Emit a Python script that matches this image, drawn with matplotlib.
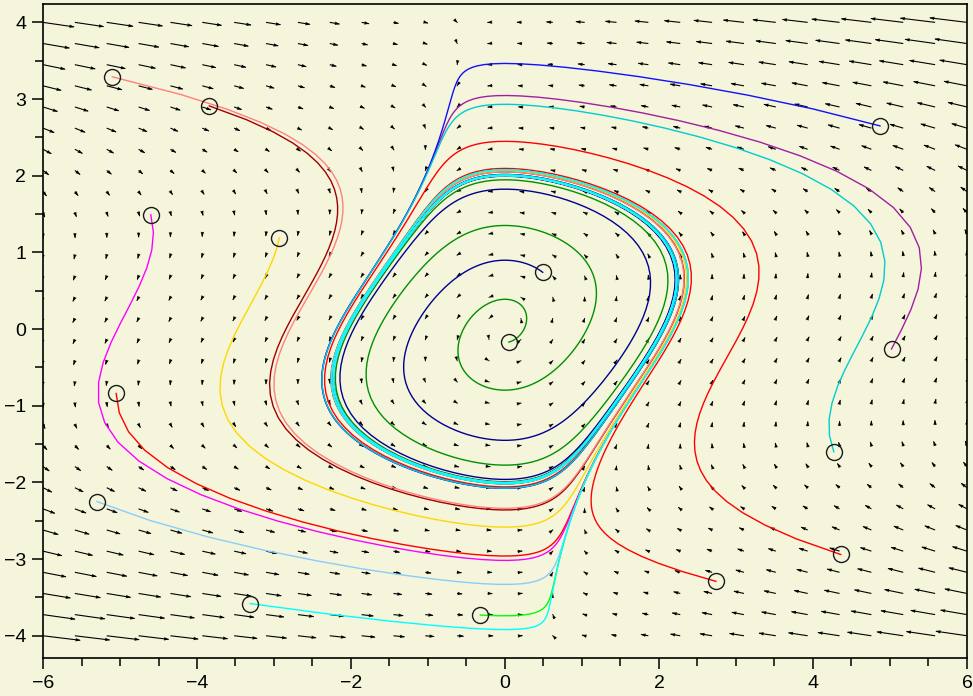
import numpy as np
import matplotlib.pyplot as plt
from matplotlib.ticker import MultipleLocator

# Van der Pol oscillator: x is the velocity (horizontal), y the position (vertical)
mu = 0.5

# direction field grid
grid_x = np.linspace(-6, 6, 30)
grid_y = np.linspace(-4, 4, 30)

# initial conditions of the trajectories (listed in drawing order)
start_x = [0.49, 0.05, 2.74, 4.36, -5.05, -3.84, -5.10, -4.60, -2.93,
           -0.32, 5.02, 4.87, 4.27, -5.30, -3.31]
start_y = [0.74, -0.17, -3.29, -2.94, -0.84, 2.91, 3.29, 1.49, 1.19,
           -3.73, -0.26, 2.65, -1.60, -2.25, -3.58]
colors = ['#000090', '#009000', '#ff0000', '#ff0000', '#ff0000',
          '#a00000', '#ff8080', '#ff00ff', '#ffd700', '#00ff00',
          '#a020a0', '#1010ff', '#00cdcd', '#87cefa', '#00ffff']

t_end = 20.0
dt = 0.01
bg = '#f5f5dc'


def field(x, y):
    dx = mu * (1 - y**2) * x - y
    dy = x
    return dx, dy


def integrate(x0, y0):
    x = np.array(x0, float)
    y = np.array(y0, float)
    xs, ys = [x.copy()], [y.copy()]
    n = int(round(t_end / dt))
    for i in range(n):
        k1 = field(x, y)
        k2 = field(x + dt / 2 * k1[0], y + dt / 2 * k1[1])
        k3 = field(x + dt / 2 * k2[0], y + dt / 2 * k2[1])
        k4 = field(x + dt * k3[0], y + dt * k3[1])
        x = x + dt / 6 * (k1[0] + 2 * k2[0] + 2 * k3[0] + k4[0])
        y = y + dt / 6 * (k1[1] + 2 * k2[1] + 2 * k3[1] + k4[1])
        if (i + 1) % 5 == 0:
            xs.append(x.copy())
            ys.append(y.copy())
    return np.array(xs), np.array(ys)


fig = plt.figure(figsize=(9.73, 6.96), dpi=100, facecolor=bg)
ax = fig.add_axes([0.0442, 0.0546, 0.9496, 0.9397])
ax.set_facecolor(bg)

# direction field: thin shafts plus fixed-size heads at the tips
X, Y = np.meshgrid(grid_x, grid_y)
U, V = field(X, Y)
mag = np.hypot(U, V)
scale = mag.max() / 0.49
ax.quiver(X, Y, U, V, angles='xy', scale_units='xy', scale=scale,
          pivot='tail', color='k', width=0.0012, headwidth=1,
          headlength=0.5, headaxislength=0.5, zorder=1)
safe = np.where(mag > 0, mag, 1)
ax.quiver(X + U / scale, Y + V / scale, U / safe, V / safe,
          angles='xy', units='dots', width=1.0, scale_units='dots',
          scale=0.2, headwidth=3.5, headlength=5, headaxislength=4.5,
          pivot='tip', color='k', zorder=1)

# trajectories
tx, ty = integrate(start_x, start_y)
for i, c in enumerate(colors):
    ax.plot(tx[:, i], ty[:, i], color=c, lw=1.0, zorder=2)

ax.plot(start_x, start_y, 'o', mfc='none', mec='#1a1a1a', ms=11.5,
        mew=1.0, zorder=3)

ax.set_xlim(-6, 6)
ax.set_ylim(-4.29, 4.24)
ax.xaxis.set_major_locator(MultipleLocator(2))
ax.xaxis.set_minor_locator(MultipleLocator(0.5))
ax.yaxis.set_major_locator(MultipleLocator(1))
ax.yaxis.set_minor_locator(MultipleLocator(0.5))
ax.tick_params(which='major', direction='out', length=8, width=1.1,
               labelsize=14, pad=4)
ax.tick_params(which='minor', direction='out', length=5.5, width=1.1)
for lab in ax.get_xticklabels() + ax.get_yticklabels():
    lab.set_fontfamily('Liberation Sans')
for s in ax.spines.values():
    s.set_linewidth(1.2)

fig.savefig('out.png', dpi=100, facecolor=bg)
